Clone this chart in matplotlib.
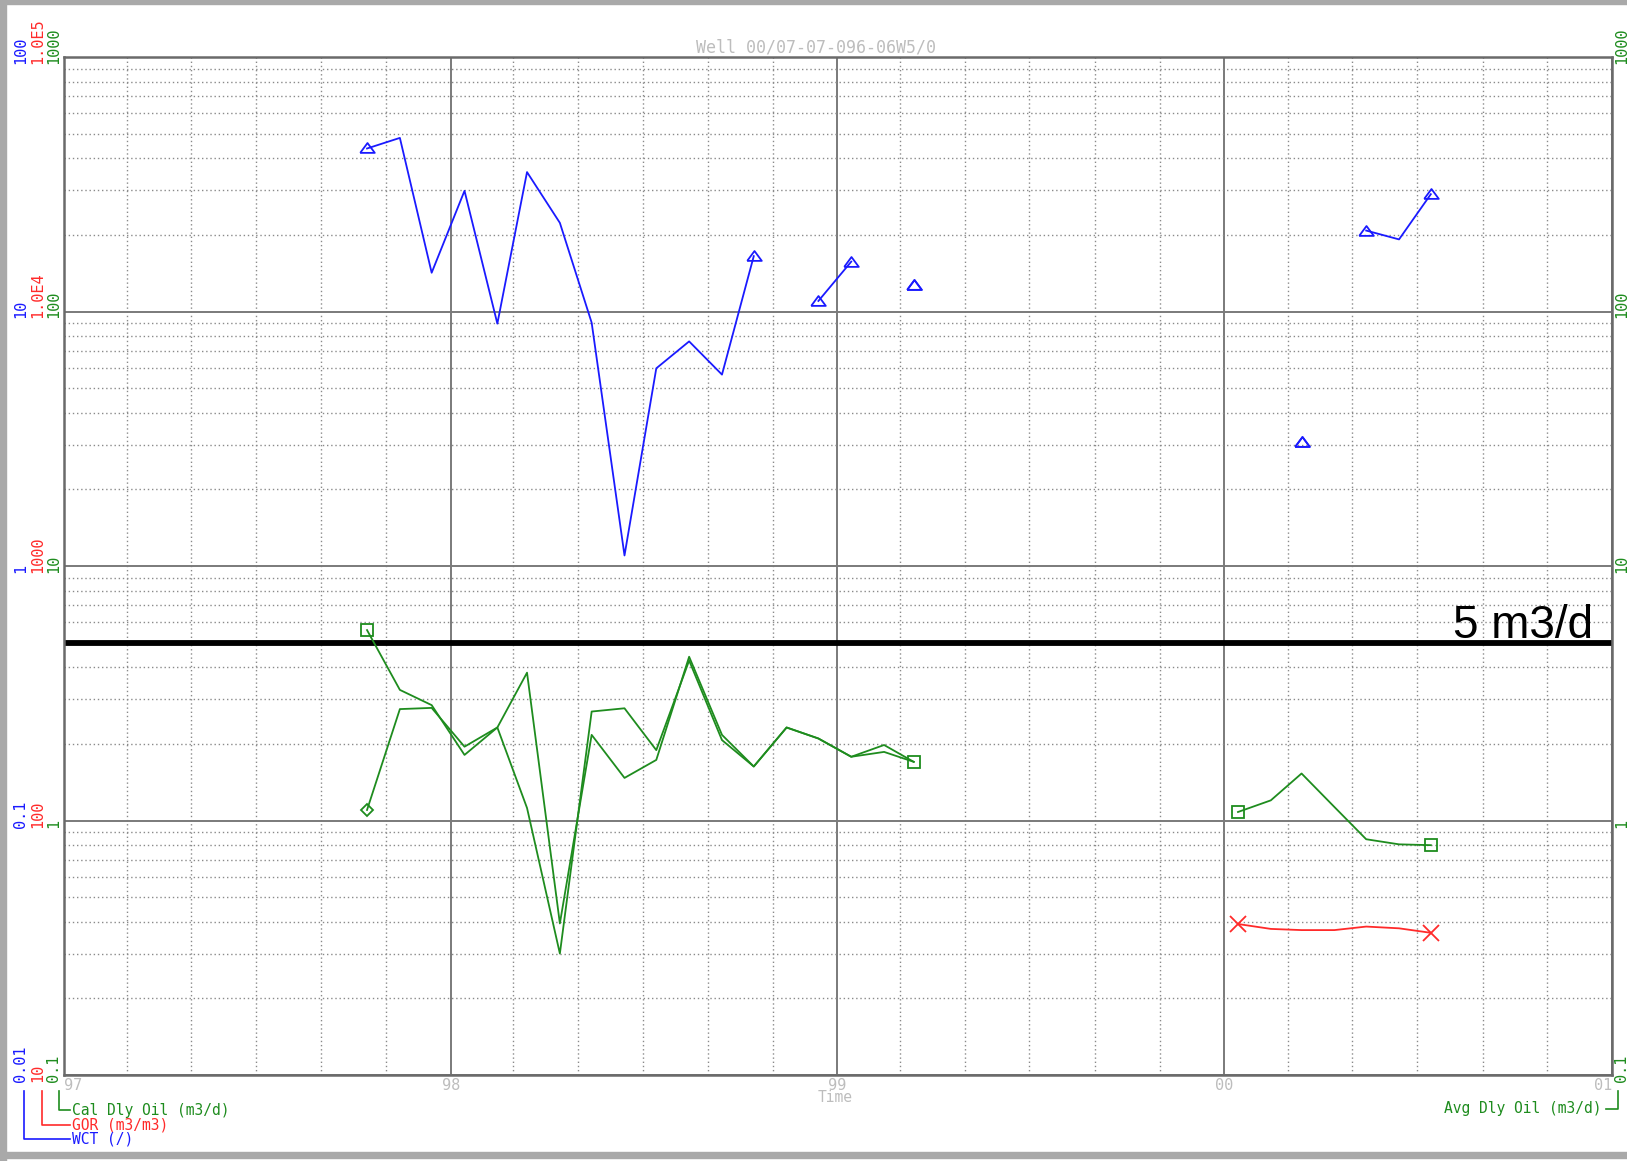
# Well production plot: WCT / GOR / oil rates on a shared log grid
import numpy as np
import pandas as pd
import matplotlib
matplotlib.use('Agg')
import matplotlib.pyplot as plt
import matplotlib.dates as mdates
from matplotlib.lines import Line2D
from matplotlib.patches import Rectangle
from matplotlib.ticker import LogLocator

# ---- data: monthly values Oct 1997 .. Jul 2000, None = not reported ----
months = pd.period_range('1997-10', '2000-07', freq='M')

wct = [43.7, 48.1, 14.2, 29.8, 8.96, 35.3, 22.3, 9.04, 1.10, 5.98, 7.63, 5.65, 16.5,
       None, 11.0, 15.7, None, 12.7,
       None, None, None, None, None, None, None, None, None, None, None,
       3.07, None, 20.8, 19.2, 28.9]

cal_oil = [5.60, 3.26, 2.84, 1.81, 2.32, 3.81, 0.394, 2.17, 1.47, 1.73, 4.40, 2.17,
           1.63, 2.32, 2.10, 1.78, 1.98, 1.70,
           None, None, None, None, None, None, None, None, None,
           1.08, 1.20, 1.53, 1.13, 0.844, 0.806, 0.80]

avg_oil = [1.10, 2.74, 2.77, 1.95, 2.32, 1.12, 0.30, 2.68, 2.76, 1.89, 4.25, 2.07,
           1.63, 2.32, 2.10, 1.78, 1.86, 1.70,
           None, None, None, None, None, None, None, None, None, None, None,
           None, None, None, None, None, None, None]

gor = [None] * 27 + [39.2, 37.5, 37.1, 37.1, 38.3, 37.7, 36.2]

year_labels = ['97', '98', '99', '00', '01']
cal_ticks = [0.1, 1, 10, 100, 1000]
cal_labels = ['0.1', '1', '10', '100', '1000']
gor_labels = ['10', '100', '1000', '1.0E4', '1.0E5']
wct_labels = ['0.01', '0.1', '1', '10', '100']
limit_rate = 5   # m3/d

# ---- styling ----
W, H = 1627, 1161
PT = 72 / 100          # pixels -> points at dpi 100
BLUE, RED, GREEN = '#1a1aff', '#ff2a2a', '#1e8c1e'
LIGHT = '#bdbdbd'
MONO = 'DejaVu Sans Mono'


def fx(x):
    return x / W


def fy(y):
    return 1 - y / H


dates = months.to_timestamp() + pd.Timedelta(days=13)


def runs(vals):
    segs, cur = [], []
    for i, v in enumerate(vals):
        if v is None:
            if cur:
                segs.append(cur)
            cur = []
        else:
            cur.append(i)
    if cur:
        segs.append(cur)
    return segs


def draw(axis, vals, color, marker, ms, ends=(True, True)):
    for seg in runs(vals):
        x = dates[seg]
        y = [vals[i] for i in seg]
        axis.plot(x, y, color=color, lw=1.3, zorder=3)
        mk = []
        if ends[0]:
            mk.append(0)
        if ends[1]:
            mk.append(len(seg) - 1)
        axis.plot(x[mk], [y[j] for j in mk], ls='none', marker=marker, ms=ms,
                  mfc='none', mec=color, mew=1.3, zorder=4)


fig = plt.figure(figsize=(W / 100, H / 100), dpi=100)
fig.patch.set_facecolor('white')

ax = fig.add_axes([fx(64), fy(1075), (1612 - 64) / W, (1075 - 57) / H])
ax.set_yscale('log')
ax.set_ylim(0.1, 1000)
ax.set_xlim(pd.Timestamp('1997-01-01'), pd.Timestamp('2001-01-01'))
ax.xaxis.set_major_locator(mdates.YearLocator())
ax.xaxis.set_minor_locator(mdates.MonthLocator(bymonth=[3, 5, 7, 9, 11]))
ax.yaxis.set_major_locator(LogLocator(base=10, numticks=10))
ax.yaxis.set_minor_locator(LogLocator(base=10, subs=np.arange(2, 10), numticks=40))
ax.set_axisbelow(True)
ax.grid(which='major', color='#7a7a7a', lw=1.4, ls='-')
ax.grid(which='minor', color='#8a8a8a', lw=1.0, ls=(0, (1, 2)))
ax.tick_params(which='both', length=0, labelleft=False, labelbottom=False)
for s in ax.spines.values():
    s.set_color('#6a6a6a')
    s.set_linewidth(1.8)

# separate scales for WCT and GOR on the same grid
ax_w = ax.twinx()
ax_w.set_yscale('log')
ax_w.set_ylim(0.01, 100)
ax_w.axis('off')
ax_g = ax.twinx()
ax_g.set_yscale('log')
ax_g.set_ylim(10, 1e5)
ax_g.axis('off')

# 5 m3/d limit line
ax.axhline(limit_rate, color='black', lw=4.2, zorder=2)
ax.annotate('5 m3/d', xy=(0.988, limit_rate), xycoords=('axes fraction', 'data'),
            xytext=(0, 5 * PT), textcoords='offset points', ha='right', va='baseline',
            fontsize=33, family='Liberation Sans', color='black', annotation_clip=False)

# series
tri = [(-1, -0.6), (1, -0.6), (0, 0.75), (-1, -0.6)]
draw(ax_w, wct, BLUE, tri, 10.5)
draw(ax, cal_oil, GREEN, 's', 9)
draw(ax, avg_oil, GREEN, 'D', 6.5, ends=(True, False))
draw(ax_g, gor, RED, 'x', 11)

# left / right value labels (rotated, three scales)
for v, lw_, lg, lc in zip(cal_ticks, wct_labels, gor_labels, cal_labels):
    for txt, dx, col in ((lw_, -43.5, BLUE), (lg, -26.5, RED), (lc, -10, GREEN)):
        ax.annotate(txt, xy=(0, v), xycoords=('axes fraction', 'data'),
                    xytext=(dx * PT, -7 * PT), textcoords='offset points',
                    rotation=90, ha='center', va='bottom', fontsize=11,
                    family=MONO, color=col, annotation_clip=False)
    ax.annotate(lc, xy=(1, v), xycoords=('axes fraction', 'data'),
                xytext=(9.5 * PT, -7 * PT), textcoords='offset points',
                rotation=90, ha='center', va='bottom', fontsize=11,
                family=MONO, color=GREEN, annotation_clip=False)

# year labels
years = pd.date_range('1997-01-01', '2001-01-01', freq='YS')
for i, (d, lab) in enumerate(zip(years, year_labels)):
    ha = 'left' if i == 0 else ('right' if i == len(years) - 1 else 'center')
    ax.annotate(lab, xy=(d, 0), xycoords=('data', 'axes fraction'),
                xytext=(0, -10 * PT), textcoords='offset points', ha=ha, va='center',
                fontsize=11, family=MONO, color=LIGHT, annotation_clip=False)
ax.annotate('Time', xy=(0.5, 0), xycoords='axes fraction', xytext=(-3 * PT, -23 * PT),
            textcoords='offset points', ha='center', va='center', fontsize=10.5,
            family=MONO, color=LIGHT)

fig.text(fx(816), fy(47), 'Well 00/07-07-096-06W5/0', ha='center', va='center',
         fontsize=12, family=MONO, color=LIGHT)

# legend brackets, bottom left
for xv, yv, txt, col in ((59, 1110, 'Cal Dly Oil (m3/d)', GREEN),
                         (42, 1125, 'GOR (m3/m3)', RED),
                         (24, 1139, 'WCT (/)', BLUE)):
    fig.add_artist(Line2D([fx(xv), fx(xv), fx(70)], [fy(1091), fy(yv), fy(yv)],
                          color=col, lw=1.2))
    fig.text(fx(72), fy(yv), txt, ha='left', va='center', fontsize=10.5,
             family=MONO, color=col)

# legend bracket, bottom right
fig.add_artist(Line2D([fx(1606), fx(1618), fx(1618)], [fy(1109), fy(1109), fy(1091)],
                      color=GREEN, lw=1.2))
fig.text(fx(1601), fy(1109), 'Avg Dly Oil (m3/d)', ha='right', va='center',
         fontsize=10.5, family=MONO, color=GREEN)

# window frame
frame = '#a9a9a9'
fig.add_artist(Rectangle((0, 0), fx(6), 1, transform=fig.transFigure, color=frame))
fig.add_artist(Rectangle((0, fy(4)), 1, fx(0) + 4 / H, transform=fig.transFigure, color=frame))
fig.add_artist(Rectangle((0, fy(1158)), 1, 6 / H, transform=fig.transFigure, color=frame))

fig.savefig('out.png', dpi=100)
print('saved out.png')
